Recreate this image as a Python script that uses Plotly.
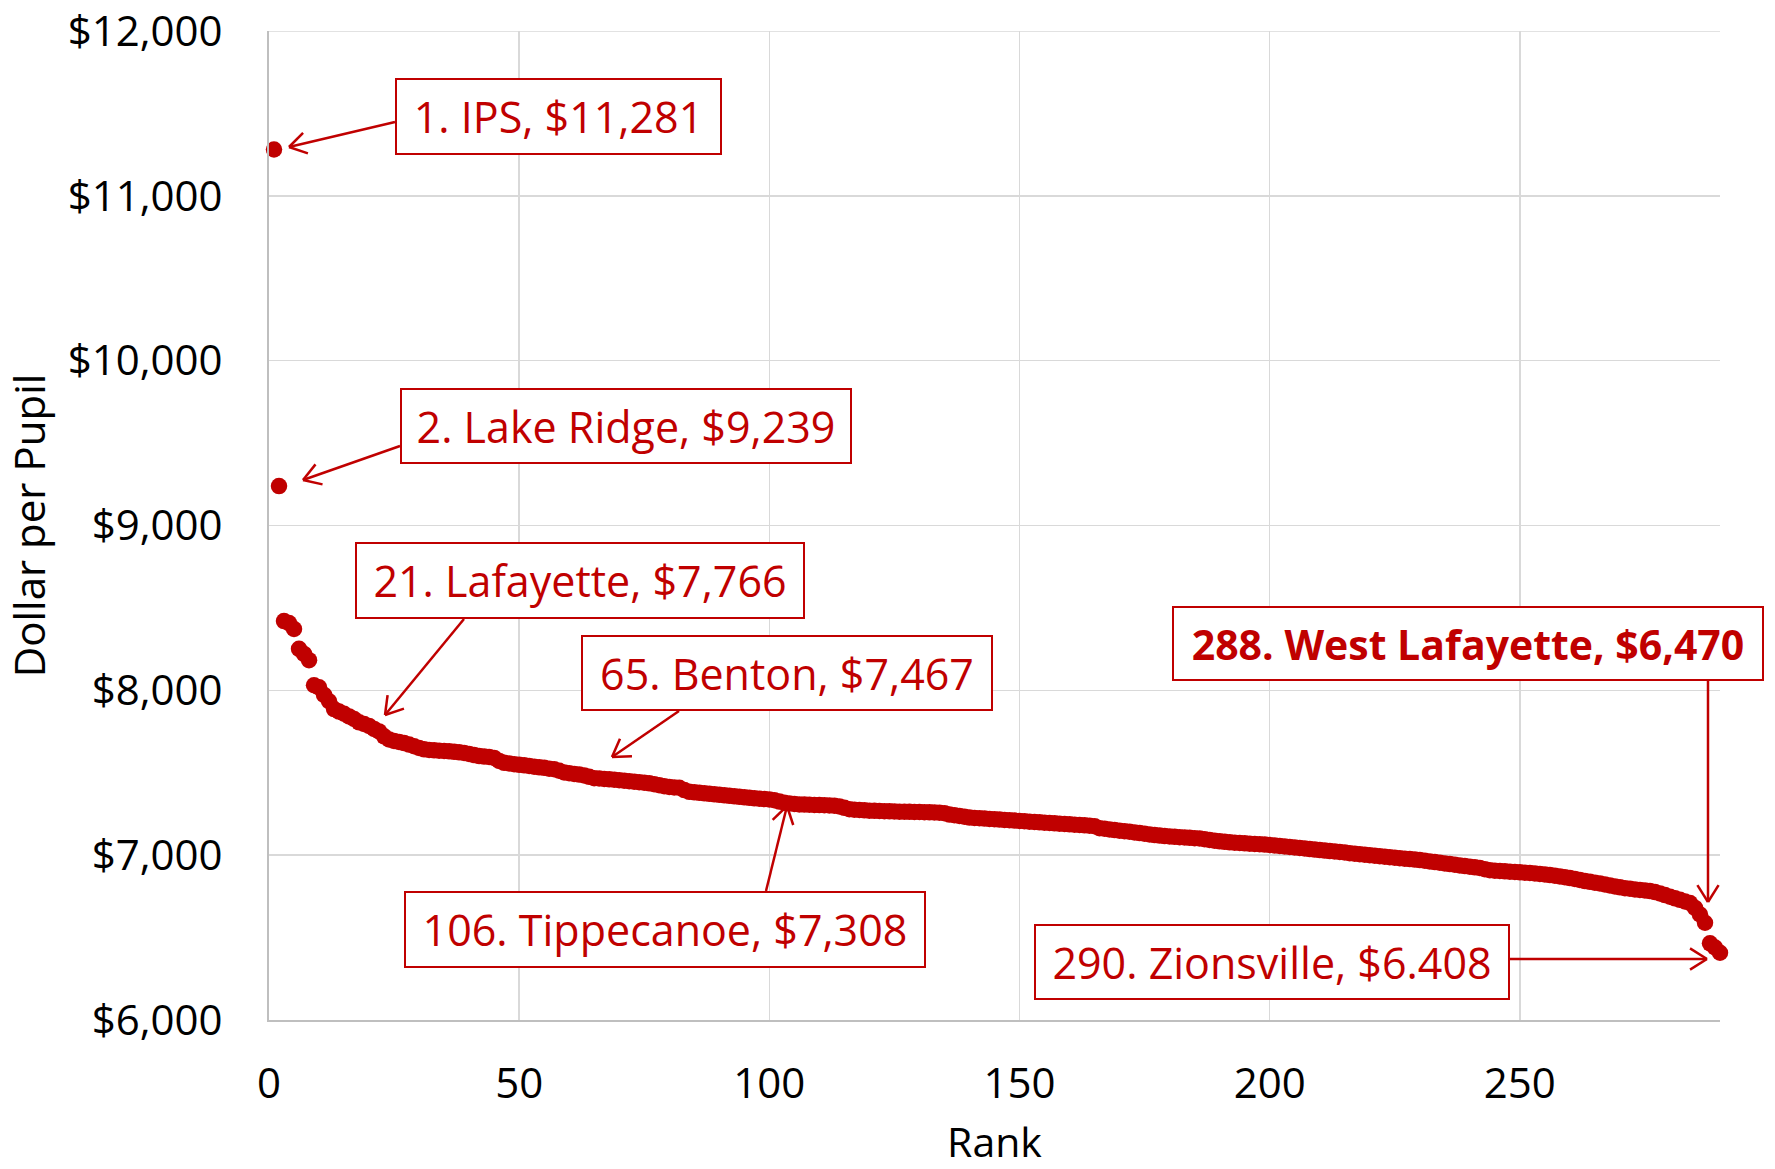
import math
import plotly.graph_objects as go

# ---------------- data ----------------
ranks = list(range(1, 291))
dollars = [
    11281, 9239, 8420, 8408, 8372, 8252, 8221, 8183, 8031, 8018,
    7972, 7934, 7886, 7871, 7858, 7842, 7826, 7806, 7796, 7784,
    7766, 7751, 7721, 7702, 7693, 7687, 7680, 7671, 7661, 7650,
    7642, 7638, 7636, 7634, 7632, 7630, 7627, 7624, 7620, 7614,
    7607, 7601, 7598, 7596, 7590, 7572, 7560, 7556, 7552, 7548,
    7545, 7541, 7537, 7533, 7530, 7525, 7521, 7512, 7502, 7497,
    7493, 7489, 7484, 7475, 7467, 7465, 7462, 7460, 7458, 7455,
    7452, 7449, 7446, 7443, 7440, 7436, 7430, 7424, 7418, 7414,
    7411, 7409, 7395, 7384, 7381, 7378, 7375, 7372, 7369, 7366,
    7363, 7360, 7357, 7354, 7351, 7348, 7345, 7343, 7340, 7338,
    7333, 7325, 7318, 7314, 7311, 7308, 7307, 7306, 7305, 7304,
    7303, 7302, 7300, 7296, 7287, 7279, 7276, 7274, 7272, 7270,
    7269, 7268, 7267, 7266, 7265, 7264, 7264, 7263, 7262, 7262,
    7261, 7260, 7259, 7258, 7255, 7246, 7242, 7238, 7233, 7228,
    7226, 7224, 7222, 7220, 7218, 7216, 7214, 7212, 7210, 7208,
    7206, 7203, 7201, 7199, 7197, 7195, 7193, 7191, 7189, 7187,
    7185, 7183, 7181, 7179, 7176, 7164, 7160, 7156, 7152, 7148,
    7145, 7142, 7138, 7134, 7130, 7126, 7122, 7119, 7116, 7113,
    7111, 7109, 7107, 7105, 7103, 7101, 7097, 7092, 7088, 7084,
    7081, 7078, 7076, 7074, 7072, 7070, 7068, 7066, 7064, 7062,
    7059, 7056, 7053, 7050, 7047, 7044, 7041, 7037, 7034, 7031,
    7028, 7025, 7022, 7019, 7016, 7012, 7009, 7006, 7003, 7000,
    6997, 6994, 6991, 6988, 6985, 6982, 6979, 6976, 6973, 6970,
    6966, 6962, 6958, 6954, 6950, 6946, 6942, 6938, 6934, 6930,
    6926, 6922, 6915, 6909, 6906, 6904, 6902, 6900, 6898, 6896,
    6894, 6892, 6889, 6886, 6883, 6879, 6875, 6871, 6866, 6861,
    6856, 6850, 6843, 6838, 6833, 6828, 6822, 6816, 6810, 6805,
    6800, 6796, 6792, 6789, 6786, 6782, 6776, 6768, 6758, 6748,
    6738, 6729, 6719, 6710, 6680, 6640, 6590, 6465, 6440, 6408,
]

label_texts = [
    "1. IPS, $11,281",
    "2. Lake Ridge, $9,239",
    "21. Lafayette, $7,766",
    "65. Benton, $7,467",
    "106. Tippecanoe, $7,308",
    "<b>288. West Lafayette, $6,470</b>",
    "290. Zionsville, $6.408",
]
label_bold = [False, False, False, False, False, True, False]

x_ticks = [0, 50, 100, 150, 200, 250]
y_ticks = [6000, 7000, 8000, 9000, 10000, 11000, 12000]

# ---------------- layout geometry ----------------
FIG_W, FIG_H = 1775, 1169
L, T, R = 269, 31, 55
PW, PH = 1451, 989
B = FIG_H - T - PH
X0, X1 = 0, 290
Y0, Y1 = 6000, 12000
RED = "#C00000"
GRID = "#D9D9D9"
FONT = "Open Sans"


def dx(px):
    # page pixel -> x data
    return X0 + (px - L) / PW * (X1 - X0)


def dy(py):
    # page pixel -> y data
    return Y1 - (py - T) / PH * (Y1 - Y0)


# label boxes in page pixel layout: (left, top, right, bottom)
boxes = [
    (395, 78, 722, 155),
    (400, 388, 852, 464),
    (355, 542, 805, 619),
    (581, 635, 993, 711),
    (404, 891, 926, 968),
    (1172, 606, 1764, 681),
    (1034, 924, 1510, 1000),
]
# arrows (tail px, head px)
arrows = [
    ((395, 122), (289, 147)),
    ((400, 446), (303, 480)),
    ((464, 619), (385, 715)),
    ((679, 711), (612, 757)),
    ((766, 891), (787, 806)),
    ((1708, 681), (1708, 902)),
    ((1510, 959), (1707, 959)),
]

fig = go.Figure()
fig.add_trace(go.Scatter(
    x=ranks, y=dollars, mode="markers",
    marker=dict(size=16.5, color=RED, line=dict(width=0)),
    showlegend=False, cliponaxis=False,
))

annotations = []
BW, PAD = 2, 4
for text, bold, (l, t, r, b) in zip(label_texts, label_bold, boxes):
    annotations.append(dict(
        xref="x", yref="y",
        x=dx((l + r) / 2), y=dy((t + b) / 2),
        xanchor="center", yanchor="middle",
        text=text, showarrow=False,
        font=dict(family=FONT, size=41 if bold else 43, color=RED),
        bgcolor="white", bordercolor=RED, borderwidth=BW, borderpad=PAD,
        width=(r - l) - 2 * (BW + PAD), height=(b - t) - 2 * (BW + PAD),
        align="center", valign="middle",
    ))

# top gridline at the upper end of the value axis
shapes = [dict(type="line", xref="paper", yref="y", x0=0, x1=1, y0=Y1, y1=Y1,
               line=dict(color=GRID, width=1.5), layer="below")]
for (tx, ty), (hx, hy) in arrows:
    shapes.append(dict(type="line", xref="x", yref="y",
                       x0=dx(tx), y0=dy(ty), x1=dx(hx), y1=dy(hy),
                       line=dict(color=RED, width=2.5), layer="above"))
    ang = math.atan2(ty - hy, tx - hx)
    for s in (-1, 1):
        a = ang + s * math.radians(32)
        ex, ey = hx + 20 * math.cos(a), hy + 20 * math.sin(a)
        shapes.append(dict(type="line", xref="x", yref="y",
                           x0=dx(hx), y0=dy(hy), x1=dx(ex), y1=dy(ey),
                           line=dict(color=RED, width=2.5), layer="above"))

fig.update_layout(
    width=FIG_W, height=FIG_H, autosize=False,
    margin=dict(l=L, r=R, t=T, b=B, pad=0, autoexpand=False),
    paper_bgcolor="white", plot_bgcolor="white",
    font=dict(family=FONT, color="black"),
    annotations=annotations, shapes=shapes,
    xaxis=dict(
        range=[X0, X1], tickvals=x_ticks, ticktext=[str(v) for v in x_ticks],
        showgrid=True, gridcolor=GRID, gridwidth=1.5,
        showline=True, linecolor="#BFBFBF", linewidth=2, zeroline=False,
        ticks="", tickfont=dict(family=FONT, size=42, color="black"),
        ticklabelstandoff=26, automargin=False, ticklabeloverflow="allow",
        title=dict(text="Rank", font=dict(family=FONT, size=41, color="black"), standoff=33),
    ),
    yaxis=dict(
        range=[Y0, Y1], tickvals=y_ticks,
        ticktext=["${:,}".format(v) for v in y_ticks],
        showgrid=True, gridcolor=GRID, gridwidth=1.5,
        showline=True, linecolor="#BFBFBF", linewidth=2, zeroline=False,
        ticks="", tickfont=dict(family=FONT, size=42, color="black"),
        ticklabelstandoff=36, automargin=False, ticklabeloverflow="allow",
        title=dict(text="Dollar per Pupil", font=dict(family=FONT, size=42, color="black"), standoff=20),
    ),
)

fig.write_html(
    "out.html",
    config={"displayModeBar": False, "staticPlot": True},
    post_script="document.body.style.margin='0';document.body.style.overflow='hidden';",
)
